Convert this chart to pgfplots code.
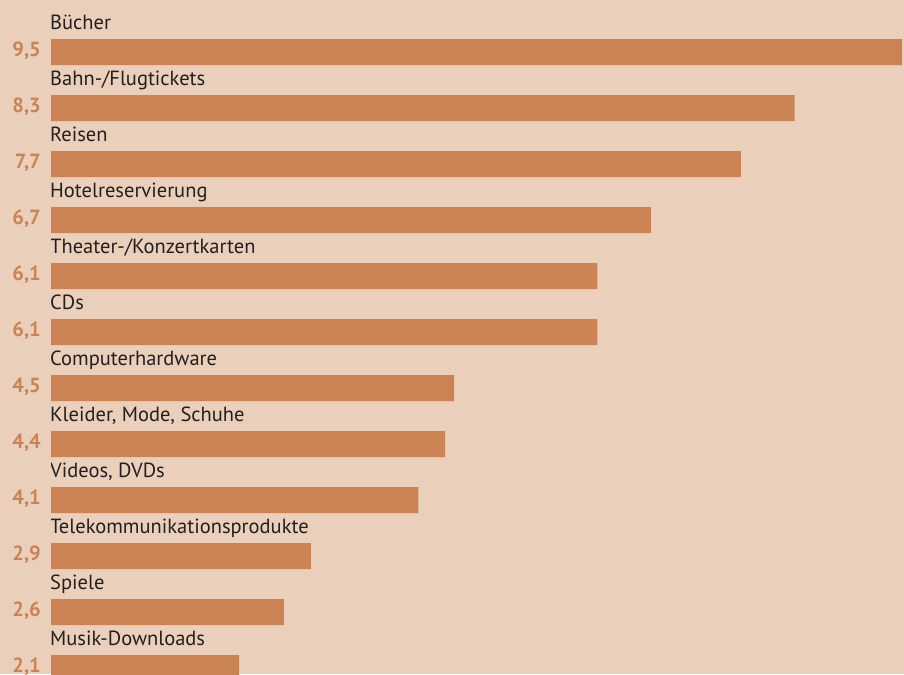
\documentclass[border=0pt]{standalone}
\usepackage{fontspec}
\setmainfont{PT Sans}
\usepackage{pgfplots}
\pgfplotsset{compat=1.18}
\definecolor{bg}{HTML}{EAD0BB}
\definecolor{barc}{HTML}{CB8353}
\definecolor{txt}{HTML}{231F20}
\newcommand{\lf}{\fontsize{20.5pt}{24pt}\selectfont}
\tikzset{lbl/.style={anchor=base west, inner sep=0pt, text=txt, font=\lf, yshift=23pt, xshift=-1pt}}
\begin{document}
\begin{tikzpicture}
\useasboundingbox (0,0) rectangle (904pt,674pt);
\fill[bg] (0,0) rectangle (904pt,674pt);
\begin{axis}[
 at={(51pt,0pt)}, anchor=south west,
 scale only axis, width=851pt, height=674pt,
 xmin=0, xmax=9.5,
 y dir=reverse, ymin=-0.9286, ymax=11.107,
 xbar, bar width=26pt,
 axis line style={draw=none}, major tick length=0pt,
 xtick=\empty,
 ytick={0,...,11},
 yticklabels={{\textbf{9,5}},{\textbf{8,3}},{\textbf{7,7}},{\textbf{6,7}},{\textbf{6,1}},{\textbf{6,1}},{\textbf{4,5}},{\textbf{4,4}},{\textbf{4,1}},{\textbf{2,9}},{\textbf{2,6}},{\textbf{2,1}}},
 yticklabel style={font=\lf, text=barc, anchor=east, inner sep=0pt, xshift=-10pt, yshift=1pt},
]
\addplot[fill=barc, draw=none] coordinates {
 (9.5,0) (8.3,1) (7.7,2) (6.7,3) (6.1,4) (6.1,5) (4.5,6) (4.4,7) (4.1,8) (2.9,9) (2.6,10) (2.1,11)};
\node[lbl] at (axis cs:0,0) {Bücher};
\node[lbl] at (axis cs:0,1) {Bahn-/Flugtickets};
\node[lbl] at (axis cs:0,2) {Reisen};
\node[lbl] at (axis cs:0,3) {Hotelreservierung};
\node[lbl] at (axis cs:0,4) {Theater-/Konzertkarten};
\node[lbl] at (axis cs:0,5) {CDs};
\node[lbl] at (axis cs:0,6) {Computerhardware};
\node[lbl] at (axis cs:0,7) {Kleider, Mode, Schuhe};
\node[lbl] at (axis cs:0,8) {Videos, DVDs};
\node[lbl] at (axis cs:0,9) {Telekommunikationsprodukte};
\node[lbl] at (axis cs:0,10) {Spiele};
\node[lbl] at (axis cs:0,11) {Musik-Downloads};
\end{axis}
\end{tikzpicture}
\end{document}
